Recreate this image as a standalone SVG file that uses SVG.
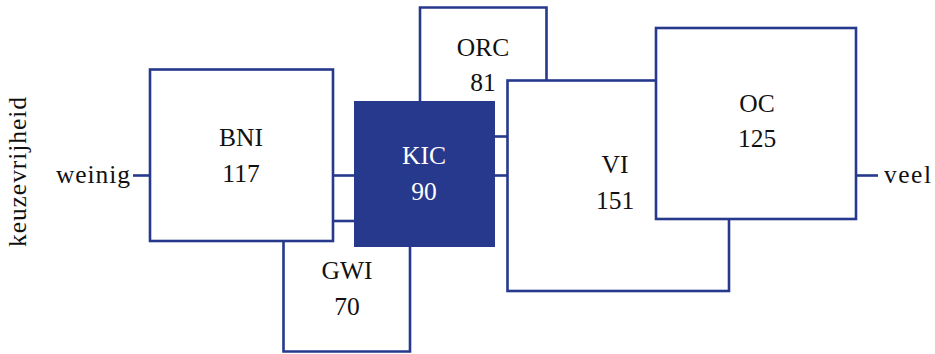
<svg xmlns="http://www.w3.org/2000/svg" width="935" height="354" viewBox="0 0 935 354">
<style>
.box{fill:#fff;stroke:#26398c;stroke-width:2.6}
.dark{fill:#26398c;stroke:none}
.t{font-family:"Liberation Serif","DejaVu Serif",serif;font-size:25.5px;fill:#111;text-anchor:middle}
.w{fill:#fff}
.c{stroke:#26398c;stroke-width:2.6;fill:none}
</style>
<rect width="935" height="354" fill="#fff"/>
<g id="connectors">
<line class="c" x1="133" y1="175.5" x2="150" y2="175.5"/>
<line class="c" x1="333" y1="175.5" x2="354" y2="175.5"/>
<line class="c" x1="333" y1="221" x2="354" y2="221"/>
<line class="c" x1="495" y1="136.5" x2="507" y2="136.5"/>
<line class="c" x1="495" y1="175.5" x2="507" y2="175.5"/>
<line class="c" x1="856" y1="175.5" x2="878" y2="175.5"/>
</g>
<g id="GWI">
<path class="box" d="M283.5,241 V351.5 H410 V247"/>
<text class="t" x="347" y="279">GWI</text>
<text class="t" x="347" y="315">70</text>
</g>
<g id="ORC">
<path class="box" d="M420,101 V7.5 H546.5 V80.5"/>
<text class="t" x="483" y="56">ORC</text>
<text class="t" x="483" y="91">81</text>
</g>
<g id="BNI">
<rect class="box" x="150" y="69.5" width="183" height="171.5"/>
<text class="t" x="241" y="146">BNI</text>
<text class="t" x="241" y="182">117</text>
</g>
<g id="KIC">
<rect class="dark" x="354" y="101" width="141" height="146"/>
<text class="t w" x="424" y="164">KIC</text>
<text class="t w" x="424" y="200">90</text>
</g>
<g id="VI">
<rect class="box" x="507.5" y="80.5" width="221.5" height="210.5"/>
<text class="t" x="615" y="173">VI</text>
<text class="t" x="615" y="209">151</text>
</g>
<g id="OC">
<rect class="box" x="656" y="28" width="200" height="191"/>
<text class="t" x="757" y="112">OC</text>
<text class="t" x="757" y="147">125</text>
</g>
<text class="t" x="130" y="183" style="text-anchor:end" textLength="74">weinig</text>
<text class="t" x="884" y="183" style="text-anchor:start" textLength="47">veel</text>
<text class="t" transform="translate(26,172) rotate(-90)" textLength="150">keuzevrijheid</text>
</svg>
